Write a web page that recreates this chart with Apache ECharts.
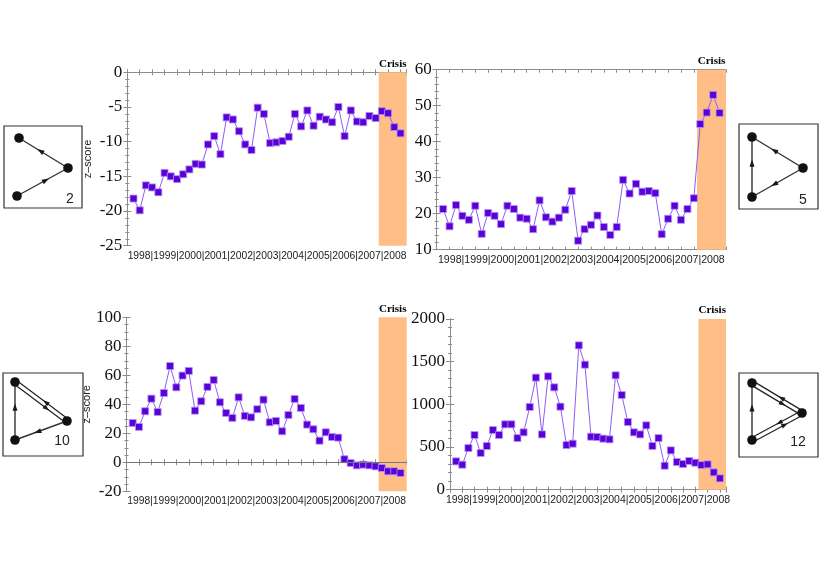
<!DOCTYPE html>
<html>
<head>
<meta charset="utf-8">
<script src="https://cdn.jsdelivr.net/npm/echarts@6/dist/echarts.min.js"></script>
<style>
  html, body { margin: 0; padding: 0; background: #fff; }
  #main { width: 823px; height: 581px; }
</style>
</head>
<body>
<div id="main"></div>
<script>
// 年份标签（x 轴下方连成一串 "1998|1999|..."）
const years = ['1998', '1999', '2000', '2001', '2002', '2003', '2004', '2005', '2006', '2007', '2008'];

// 各 motif 的季度 z-score（从图中读取，44 个季度）
const motif2 = [
  -18.2, -19.9, -16.3, -16.6, -17.3, -14.5, -15.0, -15.4, -14.7, -14.0, -13.2,
  -13.3, -10.4, -9.2, -11.8, -6.5, -6.8, -8.5, -10.4, -11.2, -5.1, -6.0,
  -10.2, -10.1, -9.9, -9.3, -6.0, -7.8, -5.5, -7.7, -6.4, -6.8, -7.2,
  -5.0, -9.2, -5.5, -7.1, -7.2, -6.3, -6.6, -5.6, -5.9, -7.9, -8.8
];
const motif5 = [
  21.3, 16.5, 22.4, 19.4, 18.3, 22.2, 14.4, 20.2, 19.4, 17.1, 22.2,
  21.3, 18.9, 18.6, 15.7, 23.7, 19.0, 17.8, 18.9, 21.1, 26.3, 12.5,
  15.7, 16.9, 19.5, 16.3, 14.1, 16.3, 29.4, 25.6, 28.3, 26.1, 26.3,
  25.7, 14.3, 18.6, 22.2, 18.3, 21.3, 24.3, 44.9, 48.1, 53.0, 48.0
];
const motif10 = [
  27.1, 24.4, 35.2, 43.9, 34.7, 47.8, 66.4, 51.7, 59.8, 63.0, 35.6,
  42.1, 52.0, 56.8, 41.4, 34.0, 30.6, 44.8, 32.0, 31.0, 36.6, 43.2,
  27.6, 28.5, 21.4, 32.6, 43.7, 37.5, 26.0, 22.8, 14.9, 20.7, 17.5,
  17.0, 2.1, -0.5, -2.1, -1.6, -2.1, -2.8, -3.9, -6.2, -6.2, -7.4
];
const motif12 = [
  332, 293, 488, 641, 430, 512, 699, 641, 766, 766, 605,
  672, 969, 1313, 648, 1328, 1199, 973, 523, 539, 1691, 1465,
  621, 617, 598, 590, 1340, 1109, 793, 672, 648, 754, 512,
  605, 281, 461, 324, 301, 336, 316, 289, 297, 203, 133
];

// 危机区间（季度序号）
const crisisRange = [40.5, 45];

// 每个面板：数据、y 轴范围、布局
const panels = [
  { data: motif2,  min: -25, max: 0,    interval: 5,   minor: 5, zname: true,  zero: false,
    box: { left: 127.3, top: 72.3, width: 279.4, height: 173.4 }, font: 10.3 },
  { data: motif5,  min: 10,  max: 60,   interval: 10,  minor: 5, zname: false, zero: false,
    box: { left: 436.7, top: 69.7, width: 289.3, height: 180 }, font: 10.6 },
  { data: motif10, min: -20, max: 100,  interval: 20,  minor: 4, zname: true,  zero: true,
    box: { left: 126.5, top: 317.3, width: 280.2, height: 174 }, font: 10.3 },
  { data: motif12, min: 0,   max: 2000, interval: 500, minor: 5, zname: false, zero: false,
    box: { left: 450, top: 319, width: 276, height: 170.7 }, font: 10.5 }
];

const FRAME = '#8c8c8c';
const grids = [], xAxes = [], yAxes = [], series = [];

panels.forEach((p, i) => {
  grids.push(Object.assign({ containLabel: false }, p.box));

  // 底部 x 轴（带年份标签）
  xAxes.push({
    type: 'value', gridIndex: i, min: 0, max: crisisRange[1], interval: 2,
    axisLine: { show: true, lineStyle: { color: FRAME } },
    axisTick: { show: true, inside: true, length: 3, lineStyle: { color: FRAME } },
    splitLine: { show: false },
    axisLabel: {
      customValues: [22.5],
      formatter: () => years.join('|'),
      fontFamily: 'Liberation Sans', fontSize: p.font, color: '#222', margin: 5
    }
  });
  // 顶部 x 轴（只画边框刻度）
  xAxes.push({
    type: 'value', gridIndex: i, position: 'top', min: 0, max: crisisRange[1], interval: 2,
    axisLine: { show: true, lineStyle: { color: FRAME } },
    axisTick: { show: true, inside: true, length: 3, lineStyle: { color: FRAME } },
    axisLabel: { show: false }, splitLine: { show: false }
  });
  // 左侧 y 轴
  yAxes.push({
    type: 'value', gridIndex: i, min: p.min, max: p.max, interval: p.interval,
    name: p.zname ? 'z\u2013score' : '',
    nameLocation: 'middle', nameGap: 34,
    nameTextStyle: { fontFamily: 'Liberation Sans', fontSize: 11, color: '#222' },
    axisLine: { show: true, lineStyle: { color: FRAME } },
    axisTick: { show: true, inside: true, length: 4, lineStyle: { color: FRAME } },
    minorTick: { show: true, splitNumber: p.minor, length: 2, lineStyle: { color: FRAME } },
    splitLine: { show: false },
    axisLabel: {
      formatter: v => String(v),
      fontFamily: 'Liberation Serif', fontSize: 17, color: '#111', margin: 5
    }
  });
  // 右侧 y 轴（只画边框刻度）
  yAxes.push({
    type: 'value', gridIndex: i, position: 'right', min: p.min, max: p.max, interval: p.interval,
    axisLine: { show: true, lineStyle: { color: FRAME } },
    axisTick: { show: true, inside: true, length: 4, lineStyle: { color: FRAME } },
    minorTick: { show: true, splitNumber: p.minor, length: 2, lineStyle: { color: FRAME } },
    axisLabel: { show: false }, splitLine: { show: false }
  });

  series.push({
    type: 'line',
    xAxisIndex: i * 2, yAxisIndex: i * 2,
    data: p.data.map((v, k) => [k + 1, v]),
    symbol: 'rect', symbolSize: 7,
    lineStyle: { color: '#8f5cf7', width: 1 },
    itemStyle: { color: '#5a00d8', borderColor: '#b496f5', borderWidth: 0.8 },
    animation: false,
    markArea: {
      silent: true,
      itemStyle: { color: '#ffbe86' },
      label: {
        show: true, position: 'top', distance: 3, formatter: 'Crisis',
        fontFamily: 'Liberation Serif', fontWeight: 'bold', fontSize: 11, color: '#000'
      },
      data: [[{ xAxis: crisisRange[0] }, { xAxis: crisisRange[1] }]]
    },
    markLine: p.zero ? {
      silent: true, symbol: 'none', label: { show: false },
      lineStyle: { color: '#777', width: 1, type: 'solid' },
      data: [{ yAxis: 0 }]
    } : undefined
  });
});

// ---- motif 小图标（三节点网络） ----
function arrowHead(a, b, t, size) {
  const x = a[0] + (b[0] - a[0]) * t, y = a[1] + (b[1] - a[1]) * t;
  const ang = Math.atan2(b[1] - a[1], b[0] - a[0]);
  const c = Math.cos(ang), s = Math.sin(ang);
  return {
    type: 'polygon',
    shape: { points: [
      [x + c * size, y + s * size],
      [x - c * size * 0.6 - s * size * 0.55, y - s * size * 0.6 + c * size * 0.55],
      [x - c * size * 0.6 + s * size * 0.55, y - s * size * 0.6 - c * size * 0.55]
    ] },
    style: { fill: '#1a1a1a' }
  };
}

function motifIcon(box, nodes, edges, label) {
  const els = [];
  els.push({ type: 'rect', shape: { x: box[0], y: box[1], width: box[2], height: box[3] },
    style: { fill: '#fff', stroke: '#333', lineWidth: 1.2 } });
  edges.forEach(([from, to, kind]) => {
    const a = nodes[from], b = nodes[to];
    if (kind === 'double') {
      const ang = Math.atan2(b[1] - a[1], b[0] - a[0]);
      const ox = -Math.sin(ang) * 2.2, oy = Math.cos(ang) * 2.2;
      const a1 = [a[0] + ox, a[1] + oy], b1 = [b[0] + ox, b[1] + oy];
      const a2 = [a[0] - ox, a[1] - oy], b2 = [b[0] - ox, b[1] - oy];
      els.push({ type: 'line', shape: { x1: a1[0], y1: a1[1], x2: b1[0], y2: b1[1] }, style: { stroke: '#222', lineWidth: 1.2 } });
      els.push({ type: 'line', shape: { x1: a2[0], y1: a2[1], x2: b2[0], y2: b2[1] }, style: { stroke: '#222', lineWidth: 1.2 } });
      els.push(arrowHead(a1, b1, 0.62, 4.2));
      els.push(arrowHead(b2, a2, 0.42, 4.2));
    } else {
      els.push({ type: 'line', shape: { x1: a[0], y1: a[1], x2: b[0], y2: b[1] }, style: { stroke: '#333', lineWidth: 1.4 } });
      els.push(arrowHead(a, b, 0.55, 4.6));
    }
  });
  nodes.forEach(n => els.push({ type: 'circle', shape: { cx: n[0], cy: n[1], r: 4.8 }, style: { fill: '#111' } }));
  els.push({ type: 'text', x: label[1], y: label[2],
    style: { text: label[0], fontFamily: 'Liberation Sans', fontSize: 14, fill: '#222', align: 'center', verticalAlign: 'middle' } });
  return { type: 'group', children: els };
}

// 节点顺序：0 左上, 1 右, 2 左下
const icons = [
  motifIcon([4, 126, 78, 82], [[19, 138], [68, 168], [17, 196]], [[1, 0], [2, 1]], ['2', 70, 199]),
  motifIcon([739, 124, 79, 85], [[752, 137], [803, 168], [752, 197]], [[1, 0], [1, 2], [2, 0]], ['5', 803, 200]),
  motifIcon([3, 373, 80, 83], [[15, 382], [67, 421], [15, 440]], [[0, 1, 'double'], [1, 2], [2, 0]], ['10', 62, 441]),
  motifIcon([739, 373, 79, 84], [[752, 383], [802, 413], [752, 440]], [[0, 1, 'double'], [2, 1, 'double'], [2, 0]], ['12', 798, 442])
];

const chart = echarts.init(document.getElementById('main'));
chart.setOption({
  animation: false,
  grid: grids,
  xAxis: xAxes,
  yAxis: yAxes,
  series: series,
  graphic: icons
});
</script>
</body>
</html>
